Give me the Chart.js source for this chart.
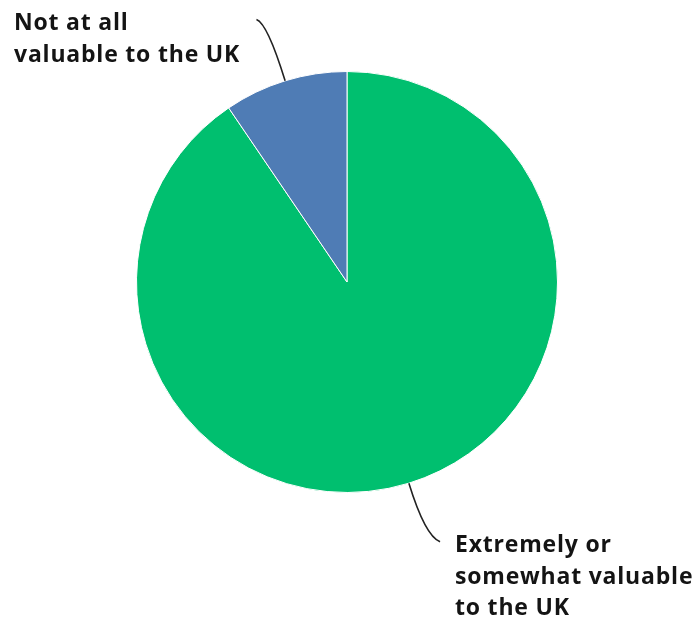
<!DOCTYPE html>
<html>
<head>
<meta charset="utf-8">
<script src="https://cdn.jsdelivr.net/npm/chart.js@4.4.1/dist/chart.umd.min.js"></script>
<style>
  html, body { margin: 0; padding: 0; background: #fff; }
  #wrap { width: 700px; height: 623px; }
</style>
</head>
<body>
<div id="wrap"><canvas id="valueChart" width="700" height="623"></canvas></div>
<script>
// share of respondents (%), clockwise from 12 o'clock
const categories = ['Extremely or somewhat valuable to the UK', 'Not at all valuable to the UK'];
const shares = [90.5, 9.5];
const labelLines = [
    ['Extremely or', 'somewhat valuable', 'to the UK'],
    ['Not at all', 'valuable to the UK']
];
const sliceColours = ['#00bf6f', '#4f7cb5'];

// callout text + curved leader lines, anchored on each slice's mid angle
const calloutPlugin = {
    id: 'callouts',
    afterDatasetsDraw(chart) {
        const ctx = chart.ctx;
        const arcs = chart.getDatasetMeta(0).data;
        const setups = [
            { len: 55, endDx: 15, endDy: 6, textX: 455, textY: 552 },
            { len: 60, endDx: -11, endDy: -4, textX: 14, textY: 30 }
        ];
        ctx.save();
        arcs.forEach(function(arc, i) {
            const mid = (arc.startAngle + arc.endAngle) / 2;
            const x0 = arc.x + Math.cos(mid) * arc.outerRadius;
            const y0 = arc.y + Math.sin(mid) * arc.outerRadius;
            const s = setups[i];
            const cx = x0 + Math.cos(mid) * s.len;
            const cy = y0 + Math.sin(mid) * s.len;
            ctx.beginPath();
            ctx.moveTo(x0, y0);
            ctx.quadraticCurveTo(cx, cy, cx + s.endDx, cy + s.endDy);
            ctx.strokeStyle = '#222';
            ctx.lineWidth = 1.6;
            ctx.stroke();

            ctx.fillStyle = '#141414';
            ctx.font = 'bold 23px "Open Sans", Lato, sans-serif';
            ctx.letterSpacing = '0.8px';
            ctx.textBaseline = 'alphabetic';
            ctx.textAlign = 'left';
            labelLines[i].forEach(function(line, k) {
                ctx.fillText(line, s.textX, s.textY + k * 31.5);
            });
        });
        ctx.restore();
    }
};

new Chart(document.getElementById('valueChart'), {
    type: 'pie',
    data: {
        labels: categories,
        datasets: [{
            data: shares,
            backgroundColor: sliceColours,
            borderColor: '#ffffff',
            borderWidth: 1
        }]
    },
    options: {
        responsive: false,
        animation: false,
        layout: { padding: { top: 71, bottom: 130, left: 136, right: 142 } },
        plugins: {
            legend: { display: false },
            tooltip: { enabled: false }
        }
    },
    plugins: [calloutPlugin]
});
</script>
</body>
</html>
